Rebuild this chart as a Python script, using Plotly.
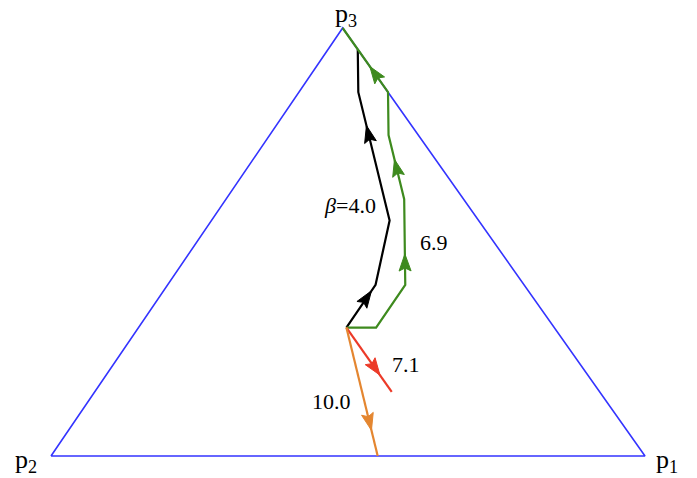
import math
import plotly.graph_objects as go

# Probability simplex: each state is (p1, p2, p3)
start = (0.35, 0.35, 0.30)

# beta = 4.0 trajectory (black)
path_40 = [start, (0.35, 0.25, 0.40), (0.30, 0.15, 0.55), (0.10, 0.05, 0.85), (0.05, 0.00, 0.95)]
# beta = 6.9 trajectory (green)
path_69 = [start, (0.40, 0.30, 0.30), (0.40, 0.20, 0.40), (0.30, 0.10, 0.60),
           (0.20, 0.05, 0.75), (0.15, 0.00, 0.85), (0.00, 0.00, 1.00)]
# beta = 7.1 trajectory (red)
path_71 = [start, (0.50, 0.35, 0.15)]
# beta = 10.0 trajectory (orange)
path_100 = [start, (0.55, 0.45, 0.00)]

labels = ["<i>\u03b2</i>=4.0", "6.9", "7.1", "10.0"]
vertex_labels = ["p<sub>1</sub>", "p<sub>2</sub>", "p<sub>3</sub>"]

# corners of the simplex in the plane (p1, p2, p3 vertices)
V1, V2, V3 = (1.0, 0.0), (0.0, 0.0), (0.491, 1.0)

# plot geometry: pixels per data unit on each axis
W_PX, H_PX = 697, 478
X_RANGE = [-51 / 594, 1 + 52 / 594]
Y_RANGE = [-22 / 428, 1 + 28 / 428]
SX = W_PX / (X_RANGE[1] - X_RANGE[0])
SY = H_PX / (Y_RANGE[1] - Y_RANGE[0])

HEAD_LEN, HEAD_HALF, NOTCH = 17.0, 6.0, 3.0


def to_xy(pts):
    xs, ys = [], []
    for p1, p2, p3 in pts:
        xs.append(p1 * V1[0] + p2 * V2[0] + p3 * V3[0])
        ys.append(p1 * V1[1] + p2 * V2[1] + p3 * V3[1])
    return xs, ys


def arrowhead(x0, y0, x1, y1, t):
    """Filled arrowhead polygon with its tip a fraction t along a segment."""
    hx, hy = x0 + (x1 - x0) * t, y0 + (y1 - y0) * t
    dx, dy = (x1 - x0) * SX, (y1 - y0) * SY
    n = math.hypot(dx, dy)
    ux, uy = dx / n, dy / n
    px, py = -uy, ux
    pts_px = [
        (0.0, 0.0),
        (-HEAD_LEN * ux + HEAD_HALF * px, -HEAD_LEN * uy + HEAD_HALF * py),
        (-(HEAD_LEN - NOTCH) * ux, -(HEAD_LEN - NOTCH) * uy),
        (-HEAD_LEN * ux - HEAD_HALF * px, -HEAD_LEN * uy - HEAD_HALF * py),
        (0.0, 0.0),
    ]
    return [hx + a / SX for a, _ in pts_px], [hy + b / SY for _, b in pts_px]


BLUE = "rgb(52,52,255)"
BLACK = "rgb(0,0,0)"
GREEN = "rgb(62,138,30)"
RED = "rgb(236,58,40)"
ORANGE = "rgb(228,134,48)"

fig = go.Figure()

# simplex boundary
tri = [(0, 1, 0), (1, 0, 0), (0, 0, 1), (0, 1, 0)]
tx, ty = to_xy(tri)
fig.add_trace(go.Scatter(x=tx, y=ty, mode="lines", line=dict(color=BLUE, width=1.6),
                         hoverinfo="skip"))

# trajectories with arrow placements (segment index, fraction along segment)
series = [
    (path_40, BLACK, [(0, 0.86), (2, 0.74)]),
    (path_69, GREEN, [(2, 0.36), (3, 0.62), (5, 0.40)]),
    (path_71, RED, [(0, 0.74)]),
    (path_100, ORANGE, [(0, 0.80)]),
]

for pts, color, arrows in series:
    xs, ys = to_xy(pts)
    fig.add_trace(go.Scatter(x=xs, y=ys, mode="lines", line=dict(color=color, width=2.2),
                             hoverinfo="skip"))
    ax_all, ay_all = [], []
    for seg, t in arrows:
        ax_, ay_ = arrowhead(xs[seg], ys[seg], xs[seg + 1], ys[seg + 1], t)
        ax_all += ax_ + [None]
        ay_all += ay_ + [None]
    fig.add_trace(go.Scatter(x=ax_all, y=ay_all, mode="lines", fill="toself",
                             fillcolor=color, line=dict(color=color, width=1),
                             hoverinfo="skip"))

text_font = dict(family="Liberation Serif", size=22, color="black")
annotations = []

# trajectory labels
label_pos = [(0.503, 0.586), (0.644, 0.498), (0.597, 0.213), (0.473, 0.127)]
for (lx, ly), txt in zip(label_pos, labels):
    annotations.append(dict(x=lx, y=ly, xref="x", yref="y", text=txt, showarrow=False,
                            font=text_font))

# vertex labels
vertex_pos = [(1.037, -0.012), (-0.042, -0.012), (0.497, 1.030)]
for (lx, ly), txt in zip(vertex_pos, vertex_labels):
    annotations.append(dict(x=lx, y=ly, xref="x", yref="y", text=txt, showarrow=False,
                            font=dict(family="Liberation Serif", size=26, color="black")))

fig.update_layout(
    width=W_PX, height=H_PX,
    margin=dict(l=0, r=0, t=0, b=0),
    paper_bgcolor="white", plot_bgcolor="white",
    showlegend=False,
    annotations=annotations,
    xaxis=dict(range=X_RANGE, visible=False, fixedrange=True),
    yaxis=dict(range=Y_RANGE, visible=False, fixedrange=True),
)

fig.write_html("out.html")
